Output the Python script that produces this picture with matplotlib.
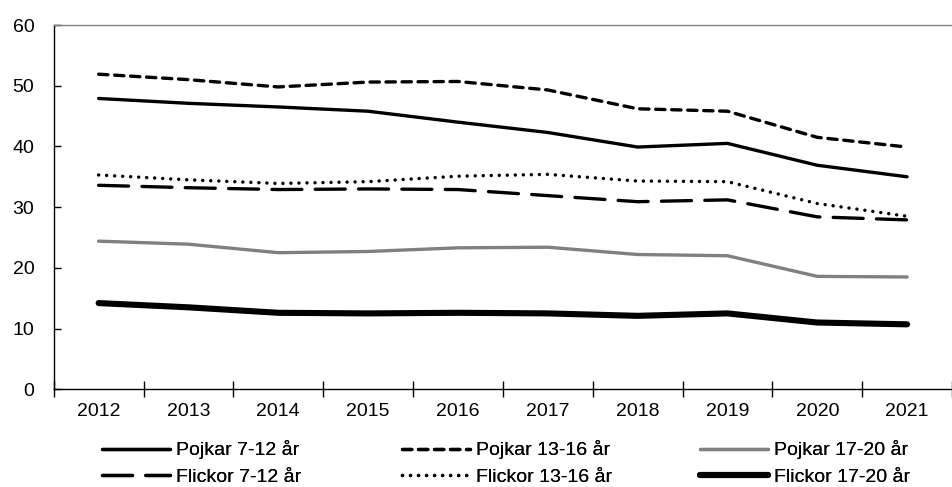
import numpy as np
import matplotlib.pyplot as plt
from matplotlib.lines import Line2D

years = ["2012", "2013", "2014", "2015", "2016", "2017", "2018", "2019", "2020", "2021"]

pojkar_7_12 = [47.9, 47.1, 46.5, 45.8, 44.0, 42.3, 39.9, 40.5, 36.9, 35.0]
pojkar_13_16 = [51.9, 51.0, 49.8, 50.6, 50.7, 49.3, 46.2, 45.8, 41.5, 39.9]
pojkar_17_20 = [24.4, 23.9, 22.5, 22.7, 23.3, 23.4, 22.2, 22.0, 18.6, 18.5]
flickor_7_12 = [33.6, 33.2, 32.9, 33.0, 32.9, 31.9, 30.9, 31.2, 28.4, 27.9]
flickor_13_16 = [35.3, 34.5, 33.9, 34.2, 35.1, 35.4, 34.3, 34.2, 30.6, 28.5]
flickor_17_20 = [14.2, 13.5, 12.6, 12.5, 12.6, 12.5, 12.1, 12.5, 11.0, 10.7]

plt.rcParams['font.family'] = ['Liberation Sans', 'DejaVu Sans']
plt.rcParams['font.size'] = 14

W, H = 952, 487
fig = plt.figure(figsize=(W / 100, H / 100), dpi=100)
left_px, bottom_px, top_px = 53.7, 389.3, 25
ax = fig.add_axes([left_px / W, 1 - bottom_px / H, 1 - left_px / W, (bottom_px - top_px) / H])

x = np.arange(len(years))
lw = 2.4
styles = [
    (pojkar_7_12, 'Pojkar 7-12 år', dict(color='black', lw=lw, solid_capstyle='round')),
    (flickor_7_12, 'Flickor 7-12 år', dict(color='black', lw=lw, dashes=(9, 4), dash_capstyle='round')),
    (pojkar_13_16, 'Pojkar 13-16 år', dict(color='black', lw=lw, dashes=(2.8, 2.0), dash_capstyle='round')),
    (flickor_13_16, 'Flickor 13-16 år', dict(color='black', lw=2.5, dashes=(0.01, 2.3), dash_capstyle='round')),
    (pojkar_17_20, 'Pojkar 17-20 år', dict(color='#808080', lw=lw, solid_capstyle='round')),
    (flickor_17_20, 'Flickor 17-20 år', dict(color='black', lw=4.4, solid_capstyle='round')),
]
for vals, label, kw in styles:
    ax.plot(x, vals, label=label, **kw)

ax.set_xlim(-0.5, (W - left_px) / 90.96 - 0.5)
ax.set_ylim(0, 60)
ax.set_yticks(range(0, 61, 10))
ax.set_xticks(x)
ax.set_xticklabels(years)
ax.set_xticks(np.arange(-0.5, len(years), 1), minor=True)
ax.tick_params(axis='x', which='major', length=0, pad=10)
ax.tick_params(axis='x', which='minor', length=12, width=1, direction='inout')
ax.tick_params(axis='y', length=5, width=1, direction='in', pad=14)

for s in ['left', 'bottom']:
    ax.spines[s].set_color('black')
    ax.spines[s].set_linewidth(1)
ax.spines['top'].set_color('#808080')
ax.spines['top'].set_linewidth(1)
ax.spines['right'].set_visible(False)

# legend: three columns, two rows, placed by handle start
col_x = [102, 402, 700]
leg_y = 1 - 463 / H
for i, cx in enumerate(col_x):
    handles = []
    labels = []
    for vals, label, kw in styles[2 * i:2 * i + 2]:
        handles.append(Line2D([], [], **kw))
        labels.append(label)
    leg = fig.legend(handles, labels, loc='center left', bbox_to_anchor=(cx / W, leg_y),
                     frameon=False, handlelength=3.5, handletextpad=0.3,
                     labelspacing=0.45, borderpad=0, borderaxespad=0)
    fig.add_artist(leg)

fig.savefig('out.png', dpi=100)
